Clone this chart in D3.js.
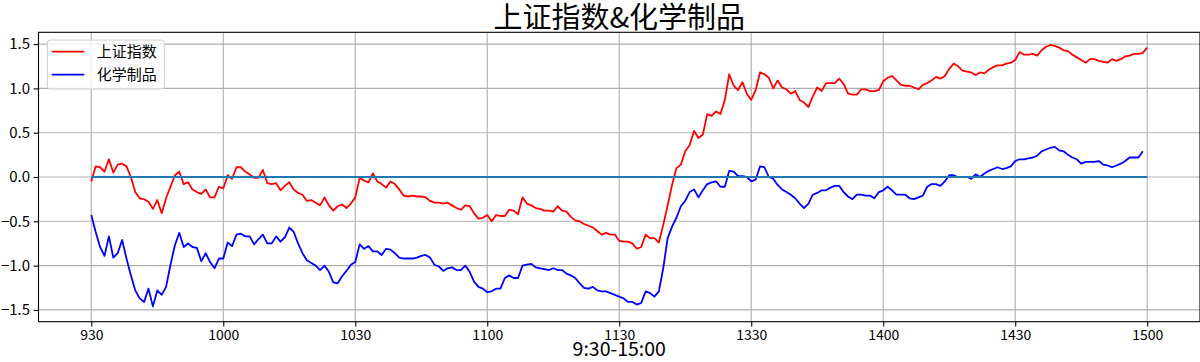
<!DOCTYPE html>
<html>
<head>
<meta charset="utf-8">
<script src="https://cdn.jsdelivr.net/npm/d3@7"></script>
<style>
  body { margin: 0; background: #fff; }
  svg { display: block; font-family: "Noto Sans CJK SC", sans-serif; }
</style>
</head>
<body>
<div class="display__svg"></div>
<script>
// minute index 0..240 (9:30-11:30, 13:00-15:00)
const tickIdx = [0, 30, 60, 90, 120, 150, 180, 210, 240];
const tickLabels = ["930", "1000", "1030", "1100", "1130", "1330", "1400", "1430", "1500"];
const yTicks = [-1.5, -1.0, -0.5, 0.0, 0.5, 1.0, 1.5];

const seriesNames = ["上证指数", "化学制品"];
const seriesColors = ["red", "blue"];

// 上证指数 (%), 241 points
const shIndex = [
  -0.05, 0.12, 0.11, 0.06, 0.20, 0.05, 0.14, 0.15, 0.12, 0.00,
  -0.17, -0.24, -0.25, -0.28, -0.36, -0.26, -0.41, -0.24, -0.11, 0.02,
  0.06, -0.08, -0.06, -0.14, -0.17, -0.19, -0.14, -0.23, -0.23, -0.11,
  -0.13, 0.02, -0.02, 0.11, 0.11, 0.06, 0.03, -0.01, -0.01, 0.08,
  -0.07, -0.08, -0.07, -0.15, -0.10, -0.06, -0.14, -0.18, -0.20, -0.27,
  -0.26, -0.29, -0.32, -0.23, -0.32, -0.38, -0.33, -0.31, -0.35, -0.30,
  -0.23,
  -0.01, -0.04, -0.06, 0.04, -0.05, -0.08, -0.12, -0.05, -0.08, -0.14,
  -0.21, -0.22, -0.21, -0.22, -0.22, -0.23, -0.27, -0.29, -0.29, -0.30,
  -0.29, -0.32, -0.35, -0.37, -0.32, -0.33, -0.41, -0.47, -0.46, -0.43,
  -0.50, -0.43, -0.44, -0.44, -0.37, -0.38, -0.42, -0.23, -0.30, -0.32,
  -0.35, -0.36, -0.38, -0.38, -0.39, -0.33, -0.38, -0.39, -0.45, -0.49,
  -0.50, -0.53, -0.55, -0.57, -0.61, -0.65, -0.63, -0.65, -0.65, -0.72,
  -0.73, -0.73, -0.75, -0.81, -0.79, -0.65, -0.69, -0.69, -0.74, -0.54,
  -0.32, -0.09, 0.10, 0.14, 0.29, 0.36, 0.52, 0.44, 0.48, 0.71,
  0.69, 0.74, 0.71, 0.87, 1.16, 1.03, 0.98, 1.07, 0.94, 0.87,
  0.98, 1.18, 1.16, 1.12, 1.00, 1.09, 1.01, 0.99, 0.94, 0.97,
  0.87, 0.84, 0.79, 0.91, 1.01, 0.97, 1.06, 1.06, 1.06, 1.11,
  1.05, 0.94, 0.93, 0.93, 0.99, 0.99, 0.97, 0.97, 0.98, 1.08,
  1.12, 1.14, 1.09, 1.04, 1.03, 1.03, 1.01, 0.99, 1.04, 1.06,
  1.09, 1.13, 1.11, 1.14, 1.22, 1.28, 1.25, 1.20, 1.19, 1.18,
  1.15, 1.18, 1.17, 1.21, 1.24, 1.26, 1.26, 1.28, 1.29, 1.32,
  1.41, 1.38, 1.38, 1.39, 1.37, 1.43, 1.47, 1.49, 1.48, 1.46,
  1.43, 1.42, 1.38, 1.35, 1.32, 1.29, 1.33, 1.33, 1.31, 1.30,
  1.29, 1.33, 1.31, 1.33, 1.36, 1.37, 1.39, 1.39, 1.40, 1.46
];

// 化学制品 (%), 240 points
const chemical = [
  -0.43, -0.62, -0.79, -0.89, -0.67, -0.91, -0.86, -0.71, -0.92, -1.11,
  -1.28, -1.37, -1.41, -1.26, -1.46, -1.28, -1.33, -1.24, -0.99, -0.77,
  -0.63, -0.79, -0.75, -0.79, -0.80, -0.95, -0.86, -0.96, -1.03, -0.92,
  -0.92, -0.74, -0.78, -0.65, -0.64, -0.67, -0.67, -0.76, -0.70, -0.65,
  -0.75, -0.75, -0.67, -0.73, -0.68, -0.57, -0.62, -0.75, -0.86, -0.94,
  -0.97, -1.00, -1.05, -1.00, -1.07, -1.19, -1.20, -1.12, -1.06, -0.99,
  -0.96,
  -0.76, -0.81, -0.78, -0.84, -0.84, -0.88, -0.81, -0.82, -0.86, -0.91,
  -0.92, -0.92, -0.92, -0.91, -0.89, -0.88, -0.91, -0.99, -1.01, -1.06,
  -1.03, -1.02, -1.05, -1.05, -1.00, -1.07, -1.18, -1.24, -1.26, -1.30,
  -1.29, -1.26, -1.26, -1.14, -1.11, -1.14, -1.14, -1.00, -0.99, -0.98,
  -1.02, -1.03, -1.04, -1.05, -1.03, -1.05, -1.05, -1.09, -1.11, -1.14,
  -1.20, -1.25, -1.26, -1.24, -1.28, -1.29, -1.29, -1.31, -1.33, -1.35,
  -1.37, -1.41, -1.41, -1.44, -1.42, -1.29, -1.31, -1.35, -1.29, -1.03,
  -0.69, -0.56, -0.46, -0.33, -0.27, -0.17, -0.14, -0.23, -0.15, -0.08,
  -0.06, -0.05, -0.11, -0.11, 0.07, 0.06, 0.01, 0.01, 0.00, -0.05,
  -0.03, 0.12, 0.11, 0.00, -0.02, -0.09, -0.14, -0.17, -0.20, -0.24,
  -0.30, -0.35, -0.30, -0.20, -0.18, -0.15, -0.15, -0.12, -0.10, -0.10,
  -0.17, -0.22, -0.25, -0.20, -0.20, -0.21, -0.21, -0.24, -0.17, -0.15,
  -0.11, -0.15, -0.20, -0.20, -0.20, -0.24, -0.25, -0.23, -0.21, -0.11,
  -0.08, -0.08, -0.10, -0.05, 0.02, 0.02, 0.00, 0.00, 0.00, -0.02,
  0.03, 0.00, 0.04, 0.07, 0.09, 0.11, 0.09, 0.10, 0.12, 0.18,
  0.20, 0.20, 0.21, 0.22, 0.24, 0.29, 0.31, 0.33, 0.34, 0.30,
  0.29, 0.25, 0.22, 0.20, 0.15, 0.17, 0.17, 0.17, 0.18, 0.14,
  0.13, 0.11, 0.13, 0.15, 0.18, 0.22, 0.22, 0.22, 0.29
];

const baseLine = [0, 240]; // zero line from first to last minute

const width = 1200, height = 362;
const margin = { top: 32.3, right: 0, bottom: 40.3, left: 38.5 };

const svg = d3.select(".display__svg")
  .append("svg")
  .attr("width", width)
  .attr("height", height);

const x = d3.scaleLinear()
  .domain([-12, 252])
  .range([margin.left, width - margin.right]);

const y = d3.scaleLinear()
  .domain([-1.633, 1.633])
  .range([height - margin.bottom, margin.top]);

// grid
svg.append("g")
  .selectAll("line")
  .data(tickIdx)
  .join("line")
  .attr("x1", d => x(d)).attr("x2", d => x(d))
  .attr("y1", margin.top).attr("y2", height - margin.bottom)
  .attr("stroke", "#b0b0b0").attr("stroke-width", 1.1);

svg.append("g")
  .selectAll("line")
  .data(yTicks)
  .join("line")
  .attr("x1", margin.left).attr("x2", width - margin.right)
  .attr("y1", d => y(d)).attr("y2", d => y(d))
  .attr("stroke", "#b0b0b0").attr("stroke-width", 1.1);

// series
const line = d3.line().x((d, i) => x(i)).y(d => y(d));
[shIndex, chemical].forEach((s, k) => {
  svg.append("path")
    .datum(s)
    .attr("fill", "none")
    .attr("stroke", seriesColors[k])
    .attr("stroke-width", 1.8)
    .attr("stroke-linejoin", "round")
    .attr("d", line);
});

svg.append("line")
  .attr("x1", x(baseLine[0])).attr("x2", x(baseLine[1]))
  .attr("y1", y(0)).attr("y2", y(0))
  .attr("stroke", "#1f77b4").attr("stroke-width", 1.8);

// axes
const xAxis = d3.axisBottom(x)
  .tickValues(tickIdx)
  .tickFormat((d, i) => tickLabels[i])
  .tickSize(4.9).tickPadding(3);

const xg = svg.append("g")
  .attr("transform", `translate(0,${height - margin.bottom})`)
  .call(xAxis);

const yAxis = d3.axisLeft(y)
  .tickValues(yTicks)
  .tickFormat(d3.format(".1f"))
  .tickSize(4.9).tickPadding(3.5);

const yg = svg.append("g")
  .attr("transform", `translate(${margin.left},0)`)
  .call(yAxis);

[xg, yg].forEach(g => {
  g.select(".domain").remove();
  g.selectAll(".tick line").attr("stroke", "#000").attr("stroke-width", 1.1);
  g.selectAll("text").attr("fill", "#000")
    .style("font-family", '"Noto Sans CJK SC", sans-serif');
});
xg.selectAll("text").style("font-size", "14px");
yg.selectAll("text").style("font-size", "15px");

// frame
svg.append("rect")
  .attr("x", margin.left).attr("y", margin.top)
  .attr("width", width - margin.right - margin.left)
  .attr("height", height - margin.bottom - margin.top)
  .attr("fill", "none")
  .attr("stroke", "#000").attr("stroke-width", 1.1);

// title and x label
svg.append("text")
  .attr("x", (margin.left + width - margin.right) / 2)
  .attr("y", 28)
  .attr("text-anchor", "middle")
  .style("font-size", "29px")
  .text("上证指数&化学制品");

svg.append("text")
  .attr("x", (margin.left + width - margin.right) / 2)
  .attr("y", 356)
  .attr("text-anchor", "middle")
  .style("font-size", "19.5px")
  .text("9:30-15:00");

// legend
const legend = svg.append("g").attr("transform", "translate(47.3,40)");
legend.append("rect")
  .attr("width", 117).attr("height", 49).attr("rx", 3)
  .attr("fill", "#fff").attr("fill-opacity", 0.8)
  .attr("stroke", "#cccccc").attr("stroke-width", 1);

const items = legend.selectAll(".item")
  .data(seriesNames)
  .join("g")
  .attr("class", "item")
  .attr("transform", (d, i) => `translate(0,${11.7 + i * 23})`);

items.append("line")
  .attr("x1", 4.4).attr("x2", 37)
  .attr("stroke", (d, i) => seriesColors[i])
  .attr("stroke-width", 1.8);

items.append("text")
  .attr("x", 49.4)
  .attr("dy", "0.35em")
  .style("font-size", "15px")
  .text(d => d);
</script>
</body>
</html>
